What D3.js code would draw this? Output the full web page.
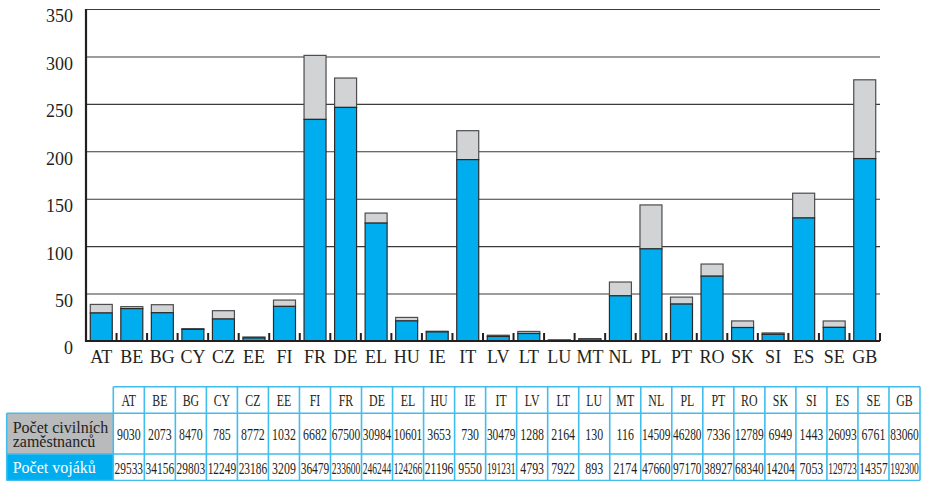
<!DOCTYPE html>
<html><head><meta charset="utf-8"><script src="https://cdn.jsdelivr.net/npm/d3@7"></script>
<style>
svg text { font-family: "Liberation Serif" !important; }
</style>
</head>
<body style="margin:0">
<svg id="s" width="927" height="481" font-family="Liberation Serif"></svg>
<script>
const categories = ["AT","BE","BG","CY","CZ","EE","FI","FR","DE","EL","HU","IE","IT","LV","LT","LU","MT","NL","PL","PT","RO","SK","SI","ES","SE","GB"];
const civilians = [9030,2073,8470,785,8772,1032,6682,67500,30984,10601,3653,730,30479,1288,2164,130,116,14509,46280,7336,12789,6949,1443,26093,6761,83060];
const soldiers = [29533,34156,29803,12249,23186,3209,36479,233600,246244,124266,21196,9550,191231,4793,7922,893,2174,47660,97170,38927,68340,14204,7053,129723,14357,192300];
const yTicks = [0,50,100,150,200,250,300,350];
const rowLabelCivil = ["Počet civilních", "zaměstnanců"];
const rowLabelSoldier = "Počet vojáků";

const svg = d3.select("#s");
const pLeft = 86, pRight = 880, pTop = 9, pBottom = 341;
const FF = "Liberation Serif";

const x = d3.scaleBand().domain(categories).range([pLeft, pRight]).paddingInner(0.28).paddingOuter(0.14);
const y = d3.scaleLinear().domain([0, 350]).range([pBottom, pTop]);

// gridlines and y tick labels
const yAxis = svg.append("g").attr("transform", "translate(" + pLeft + ",0)")
  .call(d3.axisLeft(y).tickValues(yTicks).tickSize(-(pRight - pLeft)).tickPadding(13).tickFormat(d3.format("d")));
yAxis.attr("font-family", FF).attr("font-size", 18);
yAxis.select(".domain").remove();
yAxis.selectAll(".tick line").attr("stroke", "#3a3a3a").attr("stroke-width", 1.1);
yAxis.selectAll(".tick text").attr("fill", "#231f20").attr("dy", "0.72em")
  .attr("font-family", FF).attr("font-size", 18).style("font-family", '"' + FF + '"');

const data = categories.map((c, i) => ({ c: c, civ: civilians[i] / 1000, sol: soldiers[i] / 1000 }));

const g = svg.append("g");
g.selectAll("rect.civ").data(data).join("rect").attr("class", "civ")
  .attr("x", d => x(d.c)).attr("width", x.bandwidth())
  .attr("y", d => y(d.sol + d.civ)).attr("height", d => y(d.sol) - y(d.sol + d.civ))
  .attr("fill", "#d1d3d4").attr("stroke", "#4d4d4f").attr("stroke-width", 1.2);
g.selectAll("rect.sol").data(data).join("rect").attr("class", "sol")
  .attr("x", d => x(d.c)).attr("width", x.bandwidth())
  .attr("y", d => y(d.sol)).attr("height", d => y(0) - y(d.sol))
  .attr("fill", "#00aeef").attr("stroke", "#2b2b2b").attr("stroke-width", 1.2);

// x labels
const xAxis = svg.append("g").attr("transform", "translate(0," + pBottom + ")")
  .call(d3.axisBottom(x).tickSize(0).tickPadding(9));
xAxis.attr("font-family", FF).attr("font-size", 18);
xAxis.select(".domain").remove();
xAxis.selectAll(".tick text").attr("fill", "#231f20")
  .attr("font-family", FF).attr("font-size", 18).style("font-family", '"' + FF + '"');

// small ticks at band boundaries
const bounds = categories.map(c => x(c) - x.step() * x.paddingInner() / 2).slice(1).concat([pRight]);
svg.append("g").selectAll("line").data(bounds).join("line")
  .attr("x1", d => d).attr("x2", d => d).attr("y1", pBottom).attr("y2", pBottom - 8)
  .attr("stroke", "#231f20").attr("stroke-width", 2);

svg.append("line").attr("x1", pLeft).attr("x2", pLeft).attr("y1", pTop).attr("y2", pBottom + 1)
  .attr("stroke", "#231f20").attr("stroke-width", 2.2);
svg.append("line").attr("x1", pLeft).attr("x2", pRight).attr("y1", pBottom).attr("y2", pBottom)
  .attr("stroke", "#231f20").attr("stroke-width", 2.2);

// ---- table ----
const tLeft = 113.3, tRight = 920, labelLeft = 6.7;
const rows = [386.7, 413.3, 454, 480.5];
const cx = d3.scaleBand().domain(categories).range([tLeft, tRight]);
const border = "#41bdee";
const tg = svg.append("g").attr("font-family", FF);

tg.append("rect").attr("x", labelLeft).attr("y", rows[1]).attr("width", tLeft - labelLeft).attr("height", rows[2] - rows[1])
  .attr("fill", "#b9babc");
tg.append("rect").attr("x", labelLeft).attr("y", rows[2]).attr("width", tLeft - labelLeft).attr("height", rows[3] - rows[2])
  .attr("fill", "#00aeef");

tg.append("line").attr("x1", tLeft).attr("x2", tRight).attr("y1", rows[0]).attr("y2", rows[0]).attr("stroke", border).attr("stroke-width", 1.6);
[rows[1], rows[2], rows[3]].forEach(yy => {
  tg.append("line").attr("x1", labelLeft).attr("x2", tRight).attr("y1", yy).attr("y2", yy).attr("stroke", border).attr("stroke-width", 1.6);
});
tg.append("line").attr("x1", labelLeft).attr("x2", labelLeft).attr("y1", rows[1]).attr("y2", rows[3]).attr("stroke", border).attr("stroke-width", 1.6);
const vlines = categories.map(c => cx(c)).concat([tRight]);
tg.selectAll("line.v").data(vlines).join("line").attr("class", "v")
  .attr("x1", d => d).attr("x2", d => d).attr("y1", rows[0]).attr("y2", rows[3])
  .attr("stroke", border).attr("stroke-width", 1.6);

const rowDefs = [
  { vals: categories, base: 406 },
  { vals: civilians, base: 440 },
  { vals: soldiers, base: 474 }
];
rowDefs.forEach(r => {
  tg.append("g").selectAll("text").data(r.vals).join("text")
    .attr("text-anchor", "middle")
    .attr("font-family", FF).attr("font-size", 16.5)
    .style("font-family", '"' + FF + '"')
    .attr("fill", "#231f20")
    .text(d => d)
    .each(function (d, i) {
      const w = this.getComputedTextLength();
      const sx = Math.min(0.72, (cx.bandwidth() - 2.5) / w);
      const cxp = cx(categories[i]) + cx.bandwidth() / 2;
      d3.select(this).attr("transform", "translate(" + cxp + "," + r.base + ") scale(" + sx + ",1)");
    });
});

const civText = tg.append("text").attr("x", 12.7).attr("y", 433.3)
  .attr("font-family", FF).attr("font-size", 16).style("font-family", '"' + FF + '"').attr("fill", "#231f20");
civText.append("tspan").attr("x", 12.7).attr("y", 433.3).text(rowLabelCivil[0]);
civText.append("tspan").attr("x", 12.7).attr("y", 447).text(rowLabelCivil[1]);
tg.append("text").attr("x", 12.7).attr("y", 472.7)
  .attr("font-family", FF).attr("font-size", 16).style("font-family", '"' + FF + '"')
  .attr("fill", "#ffffff").text(rowLabelSoldier);
</script></body></html>
